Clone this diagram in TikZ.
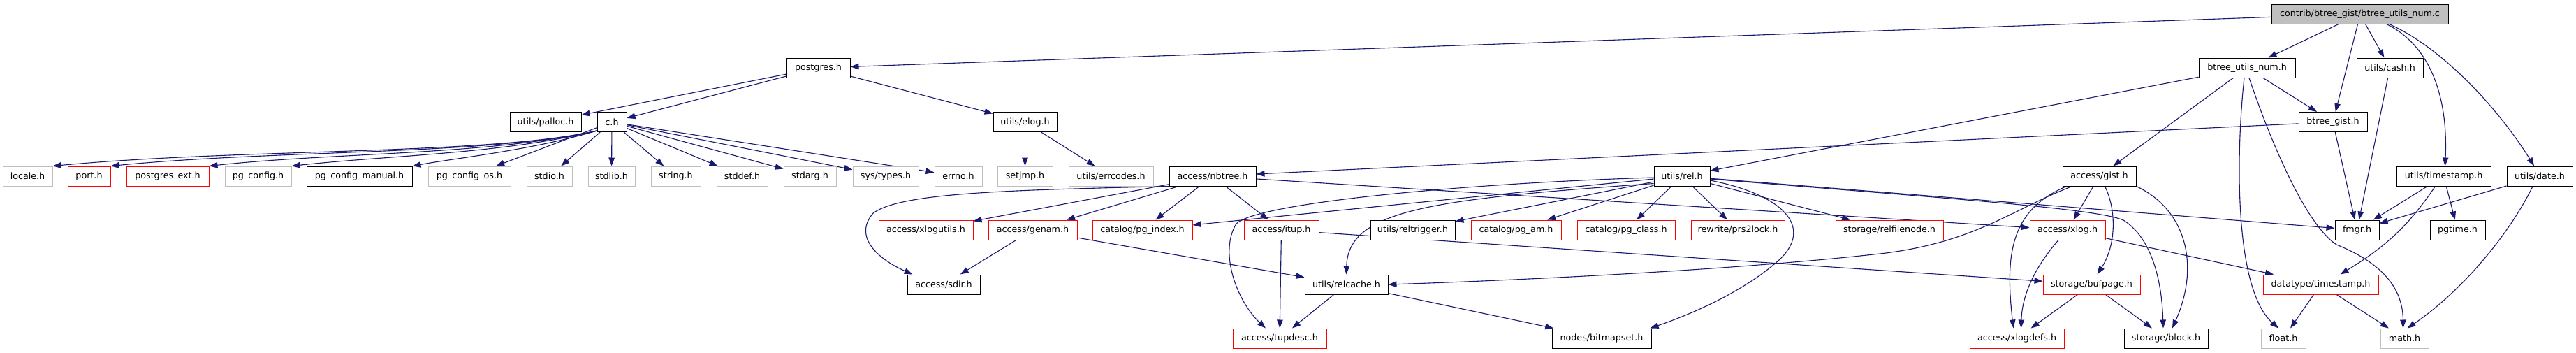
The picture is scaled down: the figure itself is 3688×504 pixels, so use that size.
\documentclass[tikz,border=0pt]{standalone}
\usepackage{fontspec}
\setmainfont{DejaVu Sans}
\usetikzlibrary{arrows.meta}
\definecolor{edgeblue}{HTML}{191970}
\definecolor{greyb}{HTML}{BFBFBF}
\definecolor{redb}{HTML}{FF0000}
\definecolor{fillgrey}{HTML}{BFBFBF}
\pgfdeclarelayer{bg}
\pgfsetlayers{bg,main}
\tikzset{
  box/.style={draw=black, fill=white, line width=1pt, rectangle, minimum height=28pt, inner sep=0pt,
    font=\fontsize{12.7}{15}\selectfont},
  sysbox/.style={box, draw=greyb},
  redbox/.style={box, draw=redb},
  rootbox/.style={box, fill=fillgrey},
  dep/.style={draw=edgeblue, line width=1.1pt, -{Triangle[length=12pt,width=8.5pt]}},
}
\begin{document}
\begin{tikzpicture}[x=1pt,y=-1pt]
\useasboundingbox (0,0) rectangle (3688,504);
% row 0
\node[rootbox, minimum width=253pt] (contrib) at (3378.5,20) {contrib/btree\_gist/btree\_utils\_num.c};
% row 1
\node[box, minimum width=91pt] (postgres) at (1171.5,97) {postgres.h};
\node[box, minimum width=138pt] (btu) at (3217,97) {btree\_utils\_num.h};
\node[box, minimum width=95pt] (cash) at (3421.5,97) {utils/cash.h};
% row 2
\node[box, minimum width=102pt] (palloc) at (781,174.5) {utils/palloc.h};
\node[box, minimum width=42pt] (ch) at (876,174.5) {c.h};
\node[box, minimum width=91pt] (elog) at (1467.5,174.5) {utils/elog.h};
\node[box, minimum width=98pt] (bgist) at (3340,174.5) {btree\_gist.h};
% row 3
\node[sysbox, minimum width=71pt] (locale) at (39.5,252) {locale.h};
\node[redbox, minimum width=61pt] (port) at (127.5,252) {port.h};
\node[redbox, minimum width=118pt] (pgext) at (240,252) {postgres\_ext.h};
\node[sysbox, minimum width=95pt] (pgconfig) at (369.5,252) {pg\_config.h};
\node[box, minimum width=151pt] (pgmanual) at (514.5,252) {pg\_config\_manual.h};
\node[sysbox, minimum width=118pt] (pgos) at (672,252) {pg\_config\_os.h};
\node[sysbox, minimum width=65pt] (stdio) at (786.5,252) {stdio.h};
\node[sysbox, minimum width=67pt] (stdlib) at (875.5,252) {stdlib.h};
\node[sysbox, minimum width=71pt] (string) at (967.5,252) {string.h};
\node[sysbox, minimum width=73pt] (stddef) at (1062.5,252) {stddef.h};
\node[sysbox, minimum width=75pt] (stdarg) at (1159.5,252) {stdarg.h};
\node[sysbox, minimum width=94pt] (systypes) at (1268,252) {sys/types.h};
\node[sysbox, minimum width=68pt] (errno) at (1372,252) {errno.h};
\node[sysbox, minimum width=79pt] (setjmp) at (1467.5,252) {setjmp.h};
\node[sysbox, minimum width=121pt] (errcodes) at (1590.5,252) {utils/errcodes.h};
\node[box, minimum width=124pt] (nbtree) at (1736,252) {access/nbtree.h};
\node[box, minimum width=80pt] (rel) at (2408,252) {utils/rel.h};
\node[box, minimum width=105pt] (gist) at (3005.5,252) {access/gist.h};
\node[box, minimum width=135pt] (timestamp) at (3498.5,252) {utils/timestamp.h};
\node[box, minimum width=94pt] (date) at (3636,252) {utils/date.h};
% row 4
\node[redbox, minimum width=135pt] (xlogutils) at (1325.5,329) {access/xlogutils.h};
\node[redbox, minimum width=127pt] (genam) at (1478.5,329) {access/genam.h};
\node[redbox, minimum width=143pt] (pgindex) at (1635.5,329) {catalog/pg\_index.h};
\node[redbox, minimum width=107pt] (itup) at (1834.5,329) {access/itup.h};
\node[box, minimum width=121pt] (reltrigger) at (2022.5,329) {utils/reltrigger.h};
\node[redbox, minimum width=129pt] (pgam) at (2170.5,329) {catalog/pg\_am.h};
\node[redbox, minimum width=140pt] (pgclass) at (2328,329) {catalog/pg\_class.h};
\node[redbox, minimum width=134pt] (prs2lock) at (2488,329) {rewrite/prs2lock.h};
\node[redbox, minimum width=154pt] (relfilenode) at (2705,329) {storage/relfilenode.h};
\node[redbox, minimum width=108pt] (xlog) at (2960,329) {access/xlog.h};
\node[box, minimum width=63pt] (fmgr) at (3374.5,329) {fmgr.h};
\node[box, minimum width=79pt] (pgtime) at (3518.5,329) {pgtime.h};
% row 5
\node[box, minimum width=104pt] (sdir) at (1351,407) {access/sdir.h};
\node[box, minimum width=119pt] (relcache) at (1927.5,407) {utils/relcache.h};
\node[redbox, minimum width=139pt] (bufpage) at (2994.5,407) {storage/bufpage.h};
\node[redbox, minimum width=165pt] (dtimestamp) at (3322.5,407) {datatype/timestamp.h};
% row 6
\node[redbox, minimum width=134pt] (tupdesc) at (1832,484) {access/tupdesc.h};
\node[box, minimum width=142pt] (bitmapset) at (2293,484) {nodes/bitmapset.h};
\node[redbox, minimum width=135pt] (xlogdefs) at (2887.5,484) {access/xlogdefs.h};
\node[box, minimum width=120pt] (block) at (3101,484) {storage/block.h};
\node[sysbox, minimum width=64pt] (float) at (3269,484) {float.h};
\node[sysbox, minimum width=69pt] (math) at (3442.5,484) {math.h};

\begin{pgfonlayer}{bg}
% contrib
\draw[dep] (contrib) -- (postgres);
\draw[dep] (contrib) -- (btu);
\draw[dep] ([xshift=-3pt]contrib.south) -- (bgist);
\draw[dep] ([xshift=8pt]contrib.south) -- (cash);
\draw[dep] ([xshift=38pt]contrib.south) .. controls (3480,65) and (3505,140) .. ([xshift=2pt]timestamp.north);
\draw[dep] ([xshift=42pt]contrib.south) .. controls (3500,70) and (3580,160) .. ([xshift=-8pt]date.north);
% postgres
\draw[dep] (postgres) -- (palloc);
\draw[dep] (postgres) -- (ch);
\draw[dep] (postgres) -- (elog);
% c.h
\draw[dep] ([yshift=2pt]ch.south west) .. controls (700,222) and (350,212) .. (locale.north east);
\draw[dep] ([yshift=2pt]ch.south west) .. controls (700,222) and (400,214) .. (port.north east);
\draw[dep] ([yshift=2pt]ch.south west) .. controls (700,222) and (480,218) .. (pgext.north east);
\draw[dep] ([yshift=2pt]ch.south west) .. controls (720,220) and (560,222) .. (pgconfig.north east);
\draw[dep] ([yshift=2pt]ch.south west) .. controls (760,215) and (660,225) .. (pgmanual.north east);
\draw[dep] (ch) -- (pgos);
\draw[dep] (ch) -- (stdio);
\draw[dep] (ch) -- (stdlib);
\draw[dep] (ch) -- (string);
\draw[dep] (ch) -- (stddef);
\draw[dep] (ch) -- (stdarg);
\draw[dep] (ch) -- (systypes);
\draw[dep] (ch) -- (errno);
% elog
\draw[dep] (elog) -- (setjmp);
\draw[dep] (elog) -- (errcodes);
% btree_utils_num.h
\draw[dep] (btu) -- (rel);
\draw[dep] (btu) -- (gist);
\draw[dep] (btu) -- (bgist);
\draw[dep] ([xshift=-4pt]btu.south) .. controls (3203,200) and (3195,410) .. ([xshift=-7pt]float.north);
\draw[dep] ([xshift=3pt]btu.south) .. controls (3250,200) and (3300,320) .. (3345,350) .. controls (3420,380) and (3440,420) .. ([xshift=-2pt]math.north);
% btree_gist.h
\draw[dep] (bgist) -- (fmgr);
\draw[dep] (bgist) -- (nbtree);
% cash, timestamp, date
\draw[dep] (cash) -- (fmgr);
\draw[dep] (timestamp) -- (fmgr);
\draw[dep] (timestamp) -- (pgtime);
\draw[dep] ([xshift=-12pt]timestamp.south) .. controls (3450,320) and (3420,350) .. ([xshift=-55pt]dtimestamp.north east);
\draw[dep] (date) -- (fmgr);
\draw[dep] ([xshift=-10pt]date.south) .. controls (3590,340) and (3520,420) .. ([xshift=4pt]math.north);
% nbtree
\draw[dep] (nbtree.south west) .. controls (1450,272) and (1290,275) .. (1250,305) .. controls (1220,340) and (1260,372) .. ([xshift=8pt]sdir.north west);
\draw[dep] (nbtree) -- (xlogutils);
\draw[dep] (nbtree) -- (genam);
\draw[dep] (nbtree) -- (pgindex);
\draw[dep] (nbtree) -- (itup);
\draw[dep] (nbtree) -- (xlog);
% rel
\draw[dep] ([yshift=-2pt]rel.west) .. controls (2100,262) and (1800,290) .. (1770,320) .. controls (1745,360) and (1770,430) .. ([xshift=-20pt]tupdesc.north);
\draw[dep] (rel) -- (pgindex);
\draw[dep] (rel) -- (reltrigger);
\draw[dep] ([yshift=4pt]rel.south west) .. controls (2050,285) and (1930,300) .. (relcache.north);
\draw[dep] (rel) -- (pgam);
\draw[dep] (rel) -- (pgclass);
\draw[dep] (rel) -- (prs2lock);
\draw[dep] (rel) -- (relfilenode);
\draw[dep] (rel) -- (fmgr);
\draw[dep] ([yshift=-4pt]rel.east) .. controls (2800,285) and (3000,298) .. (3040,315) .. controls (3080,340) and (3095,400) .. ([xshift=-4pt]block.north);
\draw[dep] ([yshift=-6pt]rel.east) .. controls (2560,280) and (2600,330) .. (2540,378) .. controls (2490,420) and (2420,450) .. ([xshift=-2pt]bitmapset.north east);
% gist
\draw[dep] ([xshift=14pt]gist.south west) .. controls (2880,300) and (2830,345) .. (2700,362) .. controls (2500,385) and (2200,400) .. (relcache.east);
\draw[dep] (gist) -- (xlog);
\draw[dep] ([xshift=6pt]gist.south west) .. controls (2880,300) and (2870,360) .. ([xshift=-5pt]xlogdefs.north);
\draw[dep] ([xshift=8pt]gist.south) .. controls (3030,300) and (3030,350) .. ([xshift=8pt]bufpage.north);
\draw[dep] (gist.south east) .. controls (3130,300) and (3150,380) .. ([xshift=9pt]block.north);
% xlog
\draw[dep] ([xshift=-13pt]xlog.south) .. controls (2915,380) and (2895,420) .. ([xshift=6pt]xlogdefs.north);
\draw[dep] (xlog) -- (dtimestamp);
% others
\draw[dep] (bufpage) -- (xlogdefs);
\draw[dep] (bufpage) -- (block);
\draw[dep] (itup) -- (tupdesc);
\draw[dep] (itup) -- (bufpage);
\draw[dep] (relcache) -- (tupdesc);
\draw[dep] (relcache) -- (bitmapset);
\draw[dep] (genam) -- (sdir);
\draw[dep] (genam) -- (relcache);
\draw[dep] (dtimestamp) -- (float);
\draw[dep] (dtimestamp) -- (math);
\end{pgfonlayer}
\end{tikzpicture}
\end{document}
